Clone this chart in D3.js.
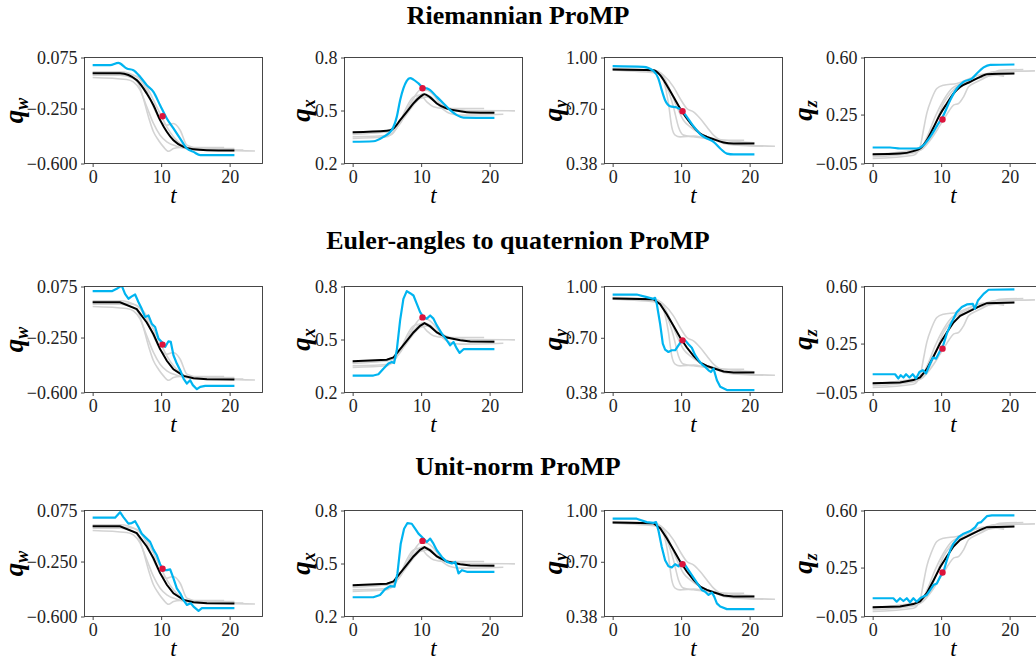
<!DOCTYPE html>
<html>
<head>
<meta charset="utf-8">
<script src="https://cdn.jsdelivr.net/npm/d3@7"></script>
<style>
  body { margin: 0; background: #fff; }
</style>
</head>
<body>
<div id="chart"></div>
<script>
// ---- data ----
const rowTitles = ["Riemannian ProMP", "Euler-angles to quaternion ProMP", "Unit-norm ProMP"];
const components = ["w", "x", "y", "z"];
const xTicks = [0, 10, 20];
const yDomains = [[-0.6, 0.075], [0.2, 0.8], [0.38, 1.0], [-0.05, 0.6]];
const yTickVals = [[-0.6, -0.25, 0.075], [0.2, 0.5, 0.8], [0.38, 0.7, 1.0], [-0.05, 0.25, 0.6]];
const yTickLabels = [["\u22120.600", "\u22120.250", "0.075"], ["0.2", "0.5", "0.8"], ["0.38", "0.70", "1.00"], ["\u22120.05", "0.25", "0.60"]];

// demonstrations (gray), same in every row
const demoQw = [
  [[0,-0.016],[4,-0.016],[6.44,-0.048],[7.9,-0.133],[8.88,-0.239],[9.85,-0.324],[10.83,-0.356],[11.8,-0.345],[12.78,-0.388],[13.76,-0.483],[15.71,-0.505],[23.7,-0.52]],
  [[0,-0.038],[4,-0.038],[5.95,-0.059],[6.68,-0.091],[7.41,-0.186],[8.15,-0.303],[8.88,-0.398],[9.61,-0.452],[10.34,-0.494],[11.07,-0.522],[11.8,-0.505],[12.78,-0.498],[19.2,-0.498]],
  [[0,-0.052],[4.98,-0.065],[5.95,-0.08],[6.93,-0.133],[7.9,-0.239],[8.88,-0.345],[9.85,-0.42],[10.83,-0.462],[12.29,-0.49],[14.5,-0.51],[22.0,-0.515]],
  [[0,-0.027],[4,-0.03],[5.95,-0.038],[6.93,-0.059],[7.9,-0.112],[8.88,-0.197],[9.85,-0.282],[10.83,-0.367],[11.8,-0.43],[12.78,-0.473],[13.76,-0.498],[20.7,-0.505]]
];
const demoQx = [
  [[0,0.37],[4.98,0.379],[6.93,0.426],[7.9,0.502],[8.88,0.568],[9.85,0.615],[10.83,0.615],[11.8,0.587],[12.78,0.54],[14.24,0.511],[16.5,0.5],[23.7,0.498]],
  [[0,0.351],[5.46,0.36],[6.93,0.436],[7.9,0.521],[8.88,0.577],[9.85,0.587],[10.83,0.549],[11.8,0.521],[13.27,0.511],[19.2,0.511]],
  [[0,0.342],[4.98,0.351],[5.95,0.379],[7.41,0.464],[8.88,0.549],[10.34,0.596],[11.32,0.581],[12.78,0.521],[14.24,0.483],[15.71,0.474],[22.0,0.479]],
  [[0,0.364],[5.95,0.389],[7.41,0.455],[8.88,0.53],[9.85,0.568],[10.83,0.577],[11.8,0.558],[13.27,0.521],[15.22,0.502],[20.7,0.492]]
];
const demoQy = [
  [[0,0.936],[5.95,0.926],[7.41,0.897],[8.88,0.828],[9.85,0.76],[10.83,0.702],[11.8,0.682],[12.78,0.643],[13.76,0.594],[14.73,0.546],[15.71,0.516],[17.66,0.493],[23.7,0.481]],
  [[0,0.93],[6.44,0.922],[7.41,0.867],[8.15,0.731],[8.63,0.594],[9.12,0.546],[9.85,0.536],[11.8,0.54],[13.76,0.526],[15.71,0.516],[19.2,0.516]],
  [[0,0.932],[6.44,0.916],[7.9,0.828],[8.88,0.711],[9.61,0.594],[10.34,0.546],[11.8,0.536],[14.73,0.52],[16.68,0.493],[22.0,0.481]],
  [[0,0.926],[6.93,0.906],[8.39,0.809],[9.37,0.711],[10.34,0.633],[11.32,0.594],[12.78,0.555],[14.73,0.526],[20.7,0.501]]
];
const demoQz = [
  [[0,-0.009],[5.95,0.015],[7.41,0.052],[8.39,0.113],[9.37,0.216],[10.34,0.318],[11.32,0.379],[12.29,0.42],[13.76,0.441],[15.71,0.481],[17.66,0.512],[23.7,0.518]],
  [[0,-0.019],[5.95,0.001],[6.93,0.052],[7.41,0.154],[7.9,0.257],[8.63,0.349],[9.37,0.41],[10.34,0.43],[12.29,0.441],[14.73,0.481],[16.2,0.498],[19.2,0.486]],
  [[0,0.001],[6.93,0.032],[8.39,0.093],[9.85,0.185],[11.07,0.267],[11.8,0.308],[12.54,0.318],[13.27,0.359],[14.0,0.42],[15.22,0.451],[16.68,0.481],[18.6,0.522],[22.0,0.526]],
  [[0,0.005],[6.93,0.042],[8.15,0.134],[9.12,0.236],[10.34,0.338],[11.56,0.41],[13.02,0.441],[15.22,0.471],[20.7,0.502]]
];

// mean of demonstrations (black)
const meanQw = [[0,-0.025],[4,-0.025],[6.44,-0.069],[7.9,-0.154],[8.88,-0.229],[9.85,-0.324],[10.83,-0.398],[11.8,-0.452],[13.27,-0.494],[14.73,-0.509],[16.68,-0.515],[20.7,-0.517]];
const meanQx = [[0,0.377],[4.98,0.385],[5.95,0.398],[6.93,0.445],[7.9,0.492],[8.88,0.54],[9.85,0.577],[10.49,0.592],[11.32,0.574],[12.29,0.54],[13.76,0.511],[15.71,0.496],[17.17,0.489],[20.7,0.487]];
const meanQy = [[0,0.93],[5.95,0.926],[6.93,0.897],[7.9,0.838],[8.88,0.77],[9.85,0.702],[10.83,0.643],[11.8,0.594],[12.78,0.555],[13.76,0.536],[14.73,0.522],[16.2,0.503],[17.66,0.497],[20.7,0.497]];
const meanQz = [[0,0.007],[4,0.011],[5.95,0.026],[6.93,0.042],[7.9,0.093],[8.88,0.171],[9.85,0.252],[10.83,0.318],[11.8,0.379],[12.78,0.42],[14.24,0.451],[15.71,0.481],[16.68,0.498],[20.7,0.502]];

// adapted trajectories (blue)
const riemQw = [[0,0.026],[2.54,0.026],[3.76,0.041],[4.98,0.005],[5.95,-0.006],[6.93,-0.048],[7.9,-0.101],[8.88,-0.144],[9.85,-0.229],[10.83,-0.313],[11.8,-0.377],[12.78,-0.441],[13.76,-0.505],[14.73,-0.526],[15.71,-0.547],[20.7,-0.547]];
const riemQx = [[0,0.323],[3.02,0.326],[4.49,0.351],[5.71,0.389],[6.44,0.464],[6.93,0.558],[7.41,0.625],[7.9,0.668],[8.39,0.683],[8.88,0.675],[9.61,0.653],[10.34,0.628],[10.83,0.625],[11.32,0.615],[12.29,0.577],[13.27,0.54],[14.24,0.502],[15.22,0.474],[16.2,0.46],[20.7,0.458]];
const riemQy = [[0,0.949],[4.49,0.945],[5.95,0.922],[6.68,0.877],[7.17,0.809],[7.66,0.75],[8.39,0.715],[9.37,0.708],[10.2,0.686],[10.83,0.653],[11.8,0.598],[12.78,0.552],[13.76,0.526],[14.73,0.507],[15.71,0.468],[16.68,0.438],[17.66,0.433],[20.7,0.433]];
const riemQz = [[0,0.048],[2.54,0.048],[4.0,0.042],[6.44,0.042],[7.41,0.062],[8.39,0.113],[9.37,0.179],[10.34,0.246],[11.32,0.338],[12.29,0.41],[13.27,0.451],[14.49,0.471],[15.22,0.502],[16.2,0.539],[17.17,0.555],[20.7,0.557]];

const eulerQw = [[0,0.045],[2.8,0.045],[3.51,0.06],[4.24,0.081],[4.73,0.028],[5.22,-0.003],[5.71,0.012],[6.2,0.024],[6.68,-0.024],[7.17,-0.067],[7.66,-0.12],[8.15,-0.109],[8.63,-0.162],[9.12,-0.183],[9.61,-0.257],[10.1,-0.278],[10.59,-0.31],[11.07,-0.274],[11.41,-0.278],[11.8,-0.363],[12.29,-0.416],[12.78,-0.458],[13.27,-0.511],[13.76,-0.543],[14.24,-0.522],[14.63,-0.553],[15.22,-0.579],[15.71,-0.564],[16.44,-0.558],[20.7,-0.558]];
const eulerQx = [[0,0.296],[3.02,0.296],[3.76,0.303],[4.49,0.335],[5.22,0.364],[5.71,0.373],[6.05,0.367],[6.44,0.439],[6.93,0.608],[7.41,0.73],[7.9,0.774],[8.39,0.762],[8.88,0.749],[9.37,0.702],[9.85,0.655],[10.34,0.627],[10.83,0.618],[11.32,0.636],[11.8,0.618],[12.29,0.58],[13.02,0.533],[13.76,0.495],[14.24,0.467],[14.73,0.486],[15.22,0.448],[15.61,0.424],[16.2,0.445],[20.7,0.445]];
const eulerQy = [[0,0.953],[3.51,0.953],[4.98,0.938],[5.95,0.928],[6.2,0.934],[6.44,0.899],[6.93,0.782],[7.32,0.666],[7.66,0.631],[8.15,0.617],[8.63,0.627],[9.12,0.627],[9.61,0.656],[10.1,0.685],[10.59,0.685],[11.07,0.662],[11.56,0.642],[12.05,0.598],[12.54,0.569],[13.02,0.545],[13.51,0.53],[14.0,0.51],[14.34,0.5],[14.73,0.52],[15.22,0.452],[15.71,0.413],[16.68,0.394],[20.7,0.394]];
const eulerQz = [[0,0.062],[3.27,0.062],[3.76,0.036],[4.1,0.056],[4.49,0.042],[4.88,0.062],[5.37,0.042],[5.85,0.062],[6.34,0.036],[6.83,0.076],[7.32,0.087],[7.8,0.067],[8.29,0.117],[8.78,0.164],[9.27,0.158],[9.76,0.199],[10.34,0.245],[10.83,0.311],[11.32,0.362],[11.8,0.402],[12.29,0.443],[13.02,0.474],[13.76,0.49],[14.63,0.494],[14.9,0.463],[15.37,0.514],[16.2,0.555],[16.93,0.58],[20.7,0.582]];

const unitQw = [[0,0.029],[3.27,0.029],[4.0,0.064],[4.49,0.033],[5.22,-0.009],[5.71,-0.005],[6.2,0.007],[6.68,-0.03],[7.17,-0.073],[7.9,-0.104],[8.39,-0.125],[8.88,-0.174],[9.37,-0.21],[9.85,-0.267],[10.34,-0.305],[10.83,-0.305],[11.32,-0.3],[11.8,-0.357],[12.29,-0.421],[12.78,-0.452],[13.27,-0.495],[13.76,-0.526],[14.34,-0.516],[14.73,-0.537],[15.46,-0.564],[15.95,-0.547],[20.7,-0.547]];
const unitQx = [[0,0.309],[3.02,0.309],[4.0,0.322],[4.73,0.354],[5.46,0.372],[6.1,0.369],[6.54,0.444],[7.02,0.612],[7.51,0.697],[8.0,0.729],[8.63,0.725],[9.12,0.697],[9.61,0.669],[10.34,0.641],[10.83,0.622],[11.32,0.641],[11.8,0.612],[12.29,0.575],[13.02,0.537],[13.76,0.509],[14.49,0.5],[14.98,0.509],[15.46,0.444],[15.95,0.462],[16.68,0.453],[20.7,0.453]];
const unitQy = [[0,0.952],[3.51,0.952],[4.98,0.932],[5.95,0.928],[6.34,0.932],[6.68,0.884],[7.17,0.787],[7.66,0.709],[8.15,0.674],[8.63,0.667],[9.12,0.686],[9.61,0.674],[10.1,0.7],[10.59,0.68],[11.07,0.651],[11.56,0.622],[12.05,0.593],[12.54,0.564],[13.02,0.535],[13.51,0.525],[14.0,0.506],[14.49,0.52],[14.83,0.496],[15.22,0.457],[15.71,0.438],[16.68,0.423],[20.7,0.423]];
const unitQz = [[0,0.062],[3.02,0.062],[3.51,0.041],[4.0,0.062],[4.49,0.045],[4.98,0.062],[5.46,0.037],[5.95,0.062],[6.44,0.041],[6.93,0.062],[7.41,0.072],[7.9,0.082],[8.39,0.112],[8.88,0.143],[9.37,0.153],[9.85,0.194],[10.34,0.224],[10.83,0.295],[11.32,0.356],[11.8,0.397],[12.54,0.437],[13.27,0.458],[14.24,0.474],[14.98,0.498],[15.37,0.523],[15.85,0.529],[16.68,0.565],[17.41,0.57],[20.7,0.57]];

// via-point (red) per row: [t, value] for w, x, y, z
const viaRiem = [[10.2,-0.299],[10.2,0.626],[10.2,0.686],[10.2,0.22]];
const viaEuler = [[10.2,-0.295],[10.2,0.625],[10.2,0.685],[10.2,0.219]];
const viaUnit = [[10.2,-0.296],[10.2,0.628],[10.2,0.686],[10.2,0.22]];

const demos = [demoQw, demoQx, demoQy, demoQz];
const means = [meanQw, meanQx, meanQy, meanQz];
const blues = [[riemQw, riemQx, riemQy, riemQz], [eulerQw, eulerQx, eulerQy, eulerQz], [unitQw, unitQx, unitQy, unitQz]];
const vias = [viaRiem, viaEuler, viaUnit];

// ---- layout ----
const width = 178, height = 106;
const colLeft = [84.5, 344.5, 604.5, 864.5];
const rowTop = [57.5, 286.5, 510.5];
const titleY = [24, 249, 475];
const yLabelOff = [-62, -35, -43, -53];
const serif = "'Liberation Serif', 'Times New Roman', serif";

const svg = d3.select("#chart")
    .append("svg")
    .attr("width", 1036)
    .attr("height", 661);

rowTitles.forEach((title, r) => {
    svg.append("text")
        .text(title)
        .attr("x", 518)
        .attr("y", titleY[r])
        .attr("text-anchor", "middle")
        .style("font-family", serif)
        .style("font-size", "26px")
        .style("font-weight", "bold")
        .attr("fill", "black");

    components.forEach((comp, c) => {
        const chart = svg.append("g")
            .attr("transform", `translate(${colLeft[c]}, ${rowTop[r]})`);

        const xScale = d3.scaleLinear().domain([-1.19, 24.8]).range([0, width]);
        const yScale = d3.scaleLinear().domain(yDomains[c]).range([height, 0]);

        const clipId = `clip-${r}-${c}`;
        chart.append("clipPath").attr("id", clipId)
            .append("rect").attr("width", width).attr("height", height);

        const plot = chart.append("g").attr("clip-path", `url(#${clipId})`);

        const smooth = d3.line()
            .x(d => xScale(d[0]))
            .y(d => yScale(d[1]))
            .curve(d3.curveMonotoneX);
        const jagged = d3.line()
            .x(d => xScale(d[0]))
            .y(d => yScale(d[1]));

        plot.selectAll(".demo")
            .data(demos[c])
            .enter()
            .append("path")
            .attr("d", smooth)
            .attr("fill", "none")
            .attr("stroke", "#d3d3d3")
            .attr("stroke-width", 1.6);

        plot.append("path")
            .datum(means[c])
            .attr("d", r === 0 ? smooth : jagged)
            .attr("fill", "none")
            .attr("stroke", "black")
            .attr("stroke-width", 2);

        plot.append("path")
            .datum(blues[r][c])
            .attr("d", r === 0 ? smooth : jagged)
            .attr("fill", "none")
            .attr("stroke", "#00b4f0")
            .attr("stroke-width", 2.2)
            .attr("stroke-linejoin", "round");

        plot.append("circle")
            .attr("cx", xScale(vias[r][c][0]))
            .attr("cy", yScale(vias[r][c][1]))
            .attr("r", 3.2)
            .attr("fill", "#dc143c");

        // axes
        const xAxis = chart.append("g")
            .attr("transform", `translate(0, ${height})`)
            .call(d3.axisBottom(xScale).tickValues(xTicks).tickSize(3.5).tickPadding(3.5).tickSizeOuter(0));
        const yAxis = chart.append("g")
            .call(d3.axisLeft(yScale).tickValues(yTickVals[c]).tickSize(3.5).tickPadding(3.5).tickSizeOuter(0)
                .tickFormat((d, i) => yTickLabels[c][i]));

        [xAxis, yAxis].forEach(a => {
            a.select(".domain").remove();
            a.selectAll("line").attr("stroke", "#333").attr("stroke-width", 0.9);
            a.selectAll("text")
                .style("font-family", serif)
                .style("font-size", "18px")
                .attr("fill", "#222");
        });

        chart.append("rect")
            .attr("width", width)
            .attr("height", height)
            .attr("fill", "none")
            .attr("stroke", "#333")
            .attr("stroke-width", 0.9);

        chart.append("text")
            .text("t")
            .attr("x", width / 2)
            .attr("y", height + 39)
            .attr("text-anchor", "middle")
            .style("font-family", serif)
            .style("font-style", "italic")
            .style("font-size", "23px")
            .attr("fill", "black");

        const lab = chart.append("text")
            .attr("transform", `translate(${yLabelOff[c]}, ${height / 2}) rotate(-90)`)
            .attr("text-anchor", "middle")
            .style("font-family", serif)
            .style("font-style", "italic")
            .style("font-weight", "bold")
            .attr("fill", "black");
        lab.append("tspan").text("q").style("font-size", "27px");
        lab.append("tspan").text(comp).style("font-size", "18px").attr("dy", 5);
    });
});
</script>
</body>
</html>
